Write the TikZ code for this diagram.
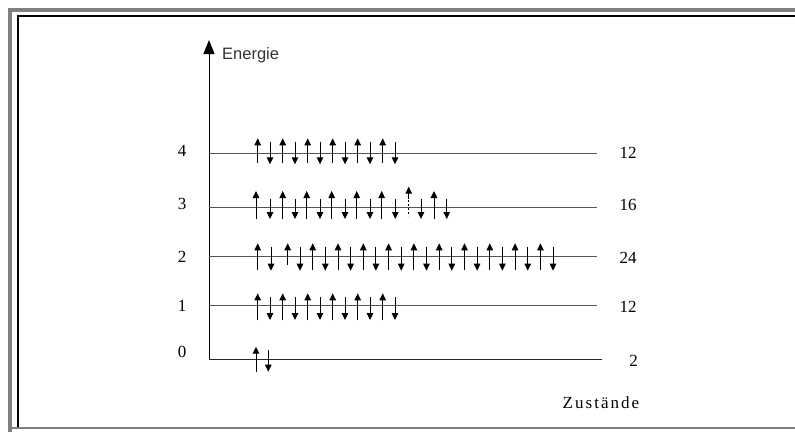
\documentclass[tikz,border=0pt]{standalone}
\usepackage{fontspec}
\setmainfont{Liberation Serif}
\newfontfamily\arialfont{Liberation Sans}
\usetikzlibrary{arrows.meta}
\begin{document}
\begin{tikzpicture}[x=1pt,y=-1pt,
  lvl/.style={draw={rgb,255:red,85;green,85;blue,85}, line width=1.3pt},
  spin/.style={line width=1pt, -{Triangle[width=6.5pt,length=7pt]}},
  num/.style={font=\fontsize{17}{17}\selectfont, inner sep=0pt},
]
\useasboundingbox (0,0) rectangle (795,432);
% frame
\fill[gray] (8,8) rectangle (795,11.5);
\fill[gray] (8,8) rectangle (12.3,432);
\draw[gray, line width=2pt] (12,427.5) -- (795,427.5);
\draw[black, line width=1.2pt] (18,426.5) -- (18,16) -- (795,16);
% axes
\coordinate (O) at (209,359.3);
\coordinate (top) at (209,40);
\coordinate (xend) at (601.5,359.3);
\draw[line width=1pt, -{Triangle[width=11pt,length=14pt]}] (O) -- (top);
\draw[line width=1.3pt, black!85] (O) -- (xend);
\node[anchor=west, inner sep=0pt, text=black!80, font=\arialfont\fontsize{16.5}{16.5}\selectfont] (en) at (222,55.5) {Energie};
\node[anchor=base, inner sep=0pt, font=\fontsize{17}{17}\selectfont\addfontfeature{LetterSpace=12}] (zu) at (601,408.3) {Zustände};
% levels
\foreach \n/\y in {4/153.3,3/207.7,2/256.7,1/305.3}{
  \coordinate (a\n) at (209,\y);
  \coordinate (b\n) at (596.7,\y);
  \draw[lvl] (a\n) -- (b\n);
}
% left labels
\node[num] (l4) at (182,150.5) {4};
\node[num] (l3) at (182,204) {3};
\node[num] (l2) at (182,257) {2};
\node[num] (l1) at (182,305.5) {1};
\node[num] (l0) at (182,352) {0};
% right labels
\node[num] (r4) at (628,152.5) {12};
\node[num] (r3) at (628,205) {16};
\node[num] (r2) at (628,257.5) {24};
\node[num] (r1) at (628,307) {12};
\node[num] (r0) at (633.5,361) {2};
% level 4
\foreach \k in {0,...,5}{
  \draw[spin] (257.7+25*\k,163.3) -- (257.7+25*\k,138.3);
  \draw[spin] (270+25*\k,141.7) -- (270+25*\k,164.3);
}
% level 3
\foreach \x in {256,282.7,306.7,331.7,356.7,381.7,434}{
  \draw[spin] (\x,219) -- (\x,191);
}
\draw[spin] (408.7,199) -- (408.7,186.7);
\draw[line width=1pt, dash pattern=on 2pt off 2pt] (408.7,200) -- (408.7,216);
\foreach \x in {270,295,320,345,370,395.3,421,446.7}{
  \draw[spin] (\x,199) -- (\x,219);
}
% level 2
\draw[spin] (257.7,270) -- (257.7,243.3);
\draw[spin] (287.7,265) -- (287.7,243.3);
\foreach \j in {0,...,9}{
  \draw[spin] (312.7+25.3*\j,270) -- (312.7+25.3*\j,243.3);
}
\draw[spin] (271,246.7) -- (271,270.7);
\foreach \j in {0,...,10}{
  \draw[spin] (300+25.3*\j,246.7) -- (300+25.3*\j,270.7);
}
% level 1
\foreach \k in {0,...,5}{
  \draw[spin] (257.7+25*\k,320) -- (257.7+25*\k,293.3);
  \draw[spin] (270+25*\k,296.7) -- (270+25*\k,320);
}
% level 0
\draw[spin] (256,371.7) -- (256,346.7);
\draw[spin] (268.3,350) -- (268.3,371.7);
\end{tikzpicture}
\end{document}
